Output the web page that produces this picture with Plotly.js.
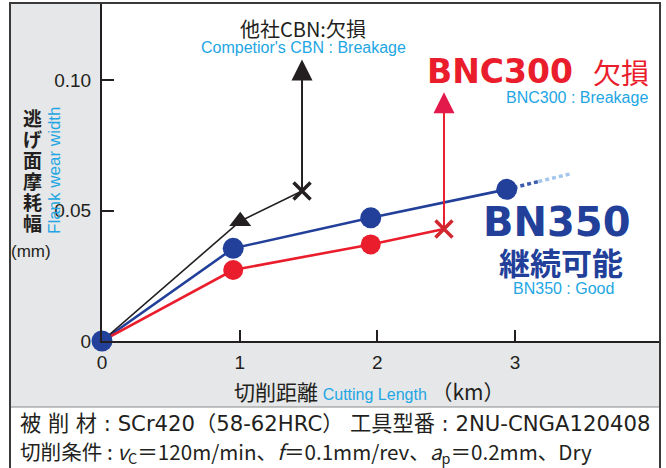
<!DOCTYPE html>
<html>
<head>
<meta charset="utf-8">
<script src="https://cdn.plot.ly/plotly-3.0.1.min.js"></script>
<style>html,body{margin:0;padding:0;background:#fff;}#chart{width:666px;height:468px;}</style>
</head>
<body>
<div id="chart"></div>
<script>
// ---- data (cutting length km, flank wear mm) ----
const bn350X = [0, 0.953, 1.952, 2.94];
const bn350Y = [0, 0.0355, 0.0472, 0.0581];
const bn350TrendX = [2.94, 3.17, 3.40];
const bn350TrendY = [0.0581, 0.0611, 0.0640];
const bnc300X = [0, 0.953, 1.952];
const bnc300Y = [0, 0.0272, 0.0370];
const bnc300BreakX = [2.484];
const bnc300BreakY = [0.0429];
const bnc300ArrowTipY = [0.0953];
const compX = [0, 1.004];
const compY = [0, 0.0459];
const compBreakX = [1.453];
const compBreakY = [0.0575];
const compArrowTipY = [0.1079];
const xTickVals = [0, 1, 2, 3];
const xTickText = ['0', '1', '2', '3'];
const yTickVals = [0, 0.05, 0.10];
const yTickText = ['0', '0.05', '0.10'];
const yTitleChars = ['逃', 'げ', '面', '摩', '耗', '幅'];

const BLUE = '#22409a', RED = '#ea1d2c', RED_HEAD = '#e3194b', RED_X = '#d2272e', BLACK = '#231f20', CYAN = '#22a6e3';
const JP = '"Noto Sans CJK JP", sans-serif';
const LAT = '"Liberation Sans", Arial, sans-serif';
const WIDE = '"DejaVu Sans", "Noto Sans CJK JP", sans-serif';

// plot area in pixels
const PL = 102, PR = 660, PT = 4, PB = 341;
const W = PR - PL, H = PB - PT;
const px = v => (v - PL) / W;
const py = v => (PB - v) / H;

function ann(text, x, y, font, xa, ya, extra) {
  return Object.assign({xref: 'paper', yref: 'paper', x: px(x), y: py(y), text: text, showarrow: false,
    xanchor: xa || 'center', yanchor: ya || 'middle', font: font}, extra || {});
}

const traces = [
  // lines
  {x: bn350X, y: bn350Y, mode: 'lines', line: {color: BLUE, width: 2.6}, cliponaxis: false},
  {x: bn350TrendX.slice(0,2), y: bn350TrendY.slice(0,2), mode: 'lines', line: {color: '#3d5cad', width: 3.5, dash: '4px,3px'}, cliponaxis: false},
  {x: bn350TrendX.slice(1), y: bn350TrendY.slice(1), mode: 'lines', line: {color: '#a3c6ea', width: 3.5, dash: '4px,3px'}, cliponaxis: false},
  {x: bnc300X.concat(bnc300BreakX), y: bnc300Y.concat(bnc300BreakY), mode: 'lines', line: {color: RED, width: 2.6}, cliponaxis: false},
  {x: compX.concat(compBreakX), y: compY.concat(compBreakY), mode: 'lines', line: {color: BLACK, width: 1.6}, cliponaxis: false},
  // vertical arrows
  {x: [bnc300BreakX[0], bnc300BreakX[0]], y: [bnc300BreakY[0], bnc300ArrowTipY[0] - 0.004], mode: 'lines', line: {color: RED, width: 2}, cliponaxis: false},
  {x: bnc300BreakX, y: bnc300ArrowTipY, mode: 'markers', marker: {symbol: 'arrow-up', size: 21, color: RED_HEAD}, cliponaxis: false},
  {x: [compBreakX[0], compBreakX[0]], y: [compBreakY[0], compArrowTipY[0] - 0.004], mode: 'lines', line: {color: BLACK, width: 2}, cliponaxis: false},
  {x: compBreakX, y: compArrowTipY, mode: 'markers', marker: {symbol: 'arrow-up', size: 21, color: BLACK}, cliponaxis: false},
  // markers
  {x: bnc300X.slice(1), y: bnc300Y.slice(1), mode: 'markers', marker: {symbol: 'circle', size: 20, color: RED}, cliponaxis: false},
  {x: bn350X, y: bn350Y, mode: 'markers', marker: {symbol: 'circle', size: 21, color: BLUE}, cliponaxis: false},
  {x: compX.slice(1), y: compY.slice(1), mode: 'markers', marker: {symbol: 'triangle-up', size: 19, color: BLACK}, cliponaxis: false},
  {x: compBreakX, y: compBreakY, mode: 'markers', marker: {symbol: 'x-thin', size: 17, line: {color: BLACK, width: 3.5}}, cliponaxis: false},
  {x: bnc300BreakX, y: bnc300BreakY, mode: 'markers', marker: {symbol: 'x-thin', size: 17, line: {color: RED_X, width: 3.5}}, cliponaxis: false}
];

const annotations = [
  ann('他社CBN:欠損', 303, 28, {family: JP, size: 20, color: BLACK}),
  ann("Competior's CBN : Breakage", 303, 48, {family: LAT, size: 16, color: CYAN}),
  ann('<b>BNC300</b>', 575, 72, {family: '"DejaVu Sans", sans-serif', size: 33, color: RED}, 'right'),
  ann('欠損', 651, 72, {family: JP, size: 28, color: RED}, 'right'),
  ann('BNC300 : Breakage', 650, 97, {family: LAT, size: 16, color: CYAN}, 'right'),
  ann('<b>BN350</b>', 556, 222, {family: '"DejaVu Sans", sans-serif', size: 40, color: BLUE}),
  ann('<b>継続可能</b>', 561, 261, {family: JP, size: 31, color: BLUE}),
  ann('BN350 : Good', 563, 288, {family: LAT, size: 16, color: CYAN}),
  ann('Flank wear width', 54, 170, {family: LAT, size: 17, color: CYAN}, 'center', 'middle', {textangle: -90}),
  ann('(mm)', 31, 251, {family: LAT, size: 17, color: BLACK}),
  ann('切削距離 <span style="color:' + CYAN + ';font-family:Arial;font-size:16px">Cutting Length</span> （km）', 369, 391, {family: JP, size: 21, color: BLACK}),
  ann('被 削 材 : SCr420（58-62HRC） 工具型番 : 2NU-CNGA120408', 18, 423, {family: WIDE, size: 21.2, color: BLACK}, 'left'),
  ann('切削条件 : <i>v</i><sub>C</sub>＝120m/min、<i>f</i>＝0.1mm/rev、<i>a</i><sub>p</sub>＝0.2mm、Dry', 18, 452, {family: JP, size: 20.6, color: BLACK}, 'left')
];
yTitleChars.forEach((c, i) => annotations.push(ann(c, 32, 117 + i * 21, {family: JP, size: 19, color: BLACK, weight: 'bold'})));

const shapes = [
  {type: 'rect', xref: 'paper', yref: 'paper', x0: px(10), x1: px(PL), y0: py(3), y1: py(407), fillcolor: '#e6e7e8', line: {width: 0}, layer: 'below'},
  {type: 'rect', xref: 'paper', yref: 'paper', x0: px(PL), x1: px(PR), y0: py(PB), y1: py(407), fillcolor: '#e6e7e8', line: {width: 0}, layer: 'below'},
  {type: 'line', xref: 'paper', yref: 'paper', x0: px(10), x1: px(PR), y0: py(407), y1: py(407), line: {color: '#8a8a8a', width: 1}},
  {type: 'rect', xref: 'paper', yref: 'paper', x0: px(10), x1: px(PR), y0: py(3), y1: py(472), line: {color: '#3a3a3a', width: 2}}
];

const layout = {
  width: 666, height: 468,
  margin: {l: PL, r: 666 - PR, t: PT, b: 468 - PB, pad: 0},
  paper_bgcolor: '#ffffff', plot_bgcolor: '#ffffff',
  showlegend: false,
  xaxis: {range: [0, W / 137.67], tickvals: xTickVals, ticktext: xTickText, ticks: 'inside', ticklen: 11, tickwidth: 2,
    tickcolor: BLACK, showline: true, linecolor: BLACK, linewidth: 2, showgrid: false, zeroline: false,
    tickfont: {family: LAT, size: 19, color: BLACK}, ticklabelstandoff: 3},
  yaxis: {range: [0, H / 2610], tickvals: yTickVals, ticktext: yTickText, ticks: 'inside', ticklen: 12, tickwidth: 2,
    tickcolor: BLACK, showline: true, linecolor: BLACK, linewidth: 2, showgrid: false, zeroline: false,
    tickfont: {family: LAT, size: 19, color: BLACK}, ticklabelstandoff: 5},
  annotations: annotations,
  shapes: shapes
};

Plotly.newPlot('chart', traces, layout, {displayModeBar: false, staticPlot: true});
</script>
</body>
</html>
